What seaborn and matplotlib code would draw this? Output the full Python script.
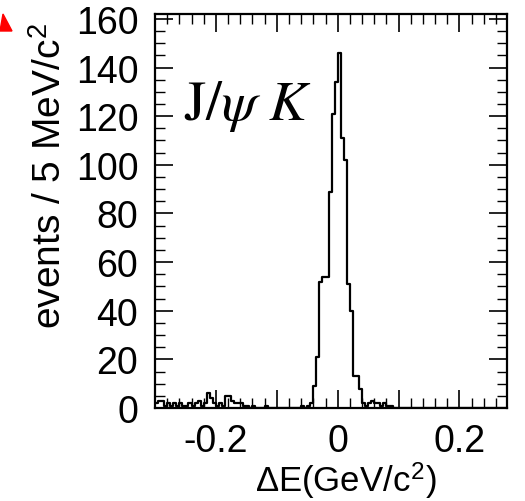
import numpy as np
import pandas as pd
import matplotlib
matplotlib.use("Agg")
import matplotlib.pyplot as plt
from matplotlib.ticker import MultipleLocator, FuncFormatter
from matplotlib.patches import Polygon
import seaborn as sns

# ---- data (events per 5 MeV bin) ----
bin_width = 0.005
x_start = -0.300
bg_left = [2, 3, 3, 1, 2, 1, 2, 1, 2, 1, 1, 2, 1, 2, 3, 1, 2, 6, 4, 2,
           1, 2, 1, 5, 5, 3, 2, 2, 2, 1, 1, 0, 1, 0, 0]
gap_left = [0, 1, 0, 0, 0, 0, 0, 0, 0, 0, 0, 0, 0, 1, 0, 1, 2]
peak = [9, 21, 52, 54, 54, 89, 121, 134, 146, 111, 102, 51, 40, 13, 13, 8]
bg_right = [2, 1, 2, 3, 2, 2, 1, 2, 1, 1, 0, 0]
tail_right = [0] * 36
counts = bg_left + gap_left + peak + bg_right + tail_right
x_ticklabels = ["-0.2", "0", "0.2"]
y_ticks = [0, 20, 40, 60, 80, 100, 120, 140, 160]

edges = [float(v) for v in (x_start + bin_width * np.arange(len(counts) + 1))]
centers = [(edges[i] + edges[i + 1]) / 2 for i in range(len(counts))]
df = pd.DataFrame({"dE": centers, "n": counts})

sns.set_theme(style="ticks")
plt.rcParams["font.family"] = ["Liberation Sans", "DejaVu Sans"]
plt.rcParams["mathtext.fontset"] = "stix"

fig = plt.figure(figsize=(5.25, 5.02), dpi=100)
ax = fig.add_axes([155 / 525, 1 - 409 / 502, (507 - 155) / 525, (409 - 15) / 502])

sns.histplot(data=df, x="dE", weights="n", bins=edges, element="step",
             fill=False, color="black", linewidth=1.6, ax=ax)

ax.set_xlim(-0.3, 0.278)
ax.set_ylim(0, 162)

ax.xaxis.set_major_locator(MultipleLocator(0.1))
ax.xaxis.set_minor_locator(MultipleLocator(0.02))
lab_map = {-2: x_ticklabels[0], 0: x_ticklabels[1], 2: x_ticklabels[2]}
def xfmt(v, pos):
    k = int(round(v / 0.1))
    return lab_map.get(k, "")
ax.xaxis.set_major_formatter(FuncFormatter(xfmt))
ax.set_yticks(y_ticks)
ax.yaxis.set_minor_locator(MultipleLocator(5))

ax.tick_params(which="both", direction="in", top=True, right=True,
               colors="black")
ax.tick_params(axis="y", labelsize=27)
ax.tick_params(axis="x", labelsize=27)
ax.tick_params(which="major", length=13, width=1.2)
ax.tick_params(which="minor", length=7, width=1.0)
ax.tick_params(axis="y", which="major", pad=12)
ax.tick_params(axis="x", which="major", pad=11)

for s in ax.spines.values():
    s.set_linewidth(1.6)
    s.set_color("black")
    s.set_visible(True)

ax.set_xlabel("")
ax.set_ylabel("")
fig.text(346 / 525, 1 / 502, r"ΔE(GeV/c$^\mathregular{2}$)", fontsize=25,
         ha="center", va="bottom", color="black")
fig.text(51 / 525, 1 - 176 / 502, r"events / 5 MeV/c$^\mathregular{2}$", fontsize=28,
         ha="center", va="center", rotation=90, color="black")

ax.text(-0.253, 119, r"$\mathrm{J}/\psi\ K$", fontsize=41, va="baseline",
        ha="left", color="black")

# red marker in the top-left corner of the picture
tri = Polygon([(3 / 525, 1 - 15 / 502), (0 / 525, 1 - 32 / 502), (12 / 525, 1 - 32 / 502)],
              closed=True, transform=fig.transFigure, color="red")
fig.patches.append(tri)

fig.savefig("out.png", dpi=100)
